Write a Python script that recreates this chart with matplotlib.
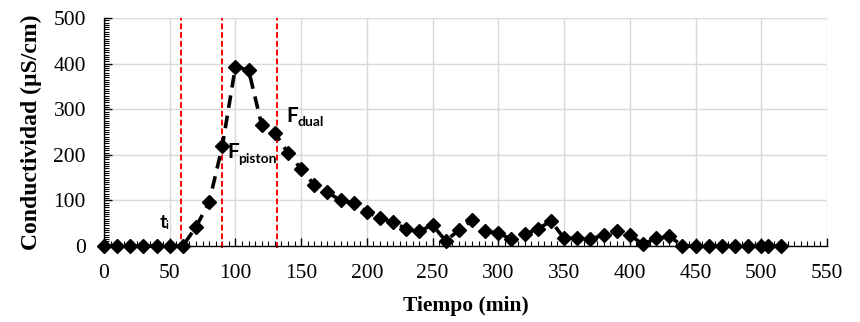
import matplotlib
matplotlib.use("Agg")
import matplotlib.pyplot as plt
from matplotlib.ticker import MultipleLocator

# Data
time_min = [0, 10, 20, 30, 40, 50, 60, 70, 80, 90, 100, 110, 120, 130, 140, 150,
            160, 170, 180, 190, 200, 210, 220, 230, 240, 250, 260, 270, 280, 290,
            300, 310, 320, 330, 340, 350, 360, 370, 380, 390, 400, 410, 420, 430,
            440, 450, 460, 470, 480, 490, 500, 505, 515]
conductivity = [0, 0, 0, 0, 0, 0, 0, 42, 96, 219, 393, 386, 265, 248, 204, 169,
                134, 118, 100, 94, 75, 61, 52, 38, 33, 46, 11, 35, 57, 33,
                28, 15, 26, 37, 55, 17, 17, 15, 24, 33, 24, 4, 17, 22,
                0, 0, 0, 0, 0, 0, 0, 0, 0]
vlines_t = [58.5, 90, 132]

serif = "Liberation Serif"
sans = "Lato"

fig = plt.figure(figsize=(8.6, 3.22), dpi=100)
ax = fig.add_axes([0.1209, 0.236, 0.8407, 0.708])

ax.plot(time_min, conductivity, color="black", linewidth=2.6,
        linestyle=(0, (3.5, 2.2)), marker="D", markersize=7,
        markerfacecolor="black", markeredgecolor="black", zorder=3, clip_on=False)

for t in vlines_t:
    ax.axvline(t, ymin=-0.01, ymax=1.0, color="#ff0000", linestyle=(0, (3, 1.5)),
               linewidth=1.4, zorder=2, clip_on=False)

ax.set_xlim(0, 550)
ax.set_ylim(0, 500)
ax.xaxis.set_major_locator(MultipleLocator(50))
ax.xaxis.set_minor_locator(MultipleLocator(5))
ax.yaxis.set_major_locator(MultipleLocator(100))
ax.yaxis.set_minor_locator(MultipleLocator(5))
ax.grid(True, which="major", color="#d9d9d9", linewidth=1.0, zorder=0)
ax.set_axisbelow(True)

for s in ["top", "right"]:
    ax.spines[s].set_visible(False)
for s in ["left", "bottom"]:
    ax.spines[s].set_color("black")
    ax.spines[s].set_linewidth(1.0)

ax.tick_params(axis="both", which="major", direction="in", length=6, width=1.0,
               labelsize=15.5, pad=13)
ax.tick_params(axis="both", which="minor", direction="in", length=3.5, width=0.8)
for lab in ax.get_xticklabels() + ax.get_yticklabels():
    lab.set_fontfamily(serif)

ax.set_xlabel("Tiempo (min)", fontfamily=serif, fontweight="bold", fontsize=15.5, labelpad=9.5)
ax.set_ylabel("Conductividad (µS/cm)", fontfamily=serif, fontweight="bold", fontsize=17, labelpad=8)

# Annotations
ax.text(42.5, 40, "t", fontfamily=sans, fontweight="bold", fontsize=14, va="baseline")
ax.text(47, 37, "i", fontfamily=sans, fontweight="bold", fontsize=8, va="baseline")
ax.text(94, 193, "F", fontfamily=sans, fontweight="bold", fontsize=15, va="baseline")
ax.text(102, 182, "piston", fontfamily=sans, fontweight="bold", fontsize=10, va="baseline")
ax.text(139, 272, "F", fontfamily=sans, fontweight="bold", fontsize=15, va="baseline")
ax.text(147, 264, "dual", fontfamily=sans, fontweight="bold", fontsize=10, va="baseline")

fig.savefig("out.png", dpi=100)
